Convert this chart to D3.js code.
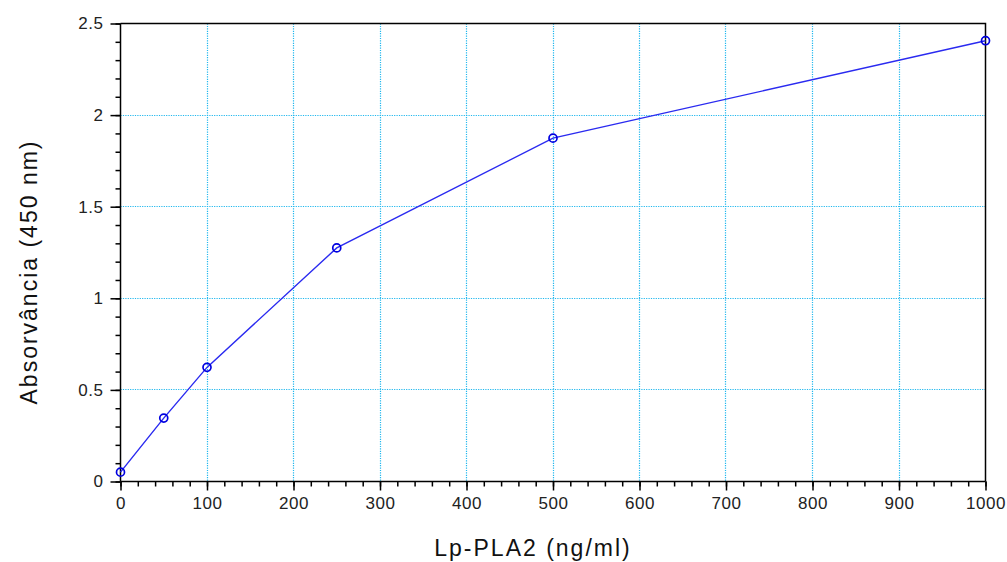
<!DOCTYPE html>
<html>
<head>
<meta charset="utf-8">
<script src="https://cdn.jsdelivr.net/npm/d3@7.9.0/dist/d3.min.js"></script>
<style>
  html, body { margin: 0; padding: 0; background: #fff; }
  svg { display: block; font-family: "Liberation Sans", Arial, sans-serif; }
</style>
</head>
<body>
<svg id="chart" width="1007" height="562"></svg>
<script>
const concentrations = [0, 50, 100, 250, 500, 1000];
const absorbance = [0.051, 0.346, 0.623, 1.275, 1.874, 2.406];
const xTicks = [0, 100, 200, 300, 400, 500, 600, 700, 800, 900, 1000];
const yTicks = [0, 0.5, 1, 1.5, 2, 2.5];
const xLabel = "Lp-PLA2 (ng/ml)";
const yLabel = "Absorvância (450 nm)";

const svg = d3.select("#chart");
const plotLeft = 120.5, plotRight = 985.5, plotTop = 23.5, plotBottom = 481.5;

const x = d3.scaleLinear().domain([0, 1000]).range([plotLeft, plotRight]);
const y = d3.scaleLinear().domain([0, 2.5]).range([plotBottom, plotTop]);

const gridColor = "#22b8ee";
const px = v => Math.round(v - 0.5) + 0.5;

// grid lines (dotted)
svg.append("g")
  .selectAll("line")
  .data(xTicks.filter(d => d > 0 && d < 1000))
  .join("line")
  .attr("x1", d => px(x(d))).attr("x2", d => px(x(d)))
  .attr("y1", plotTop).attr("y2", plotBottom)
  .attr("stroke", gridColor).attr("stroke-width", 1.2).attr("stroke-dasharray", "1.2,1.2");

svg.append("g")
  .selectAll("line")
  .data(yTicks.filter(d => d > 0 && d < 2.5))
  .join("line")
  .attr("y1", d => px(y(d))).attr("y2", d => px(y(d)))
  .attr("x1", plotLeft).attr("x2", plotRight)
  .attr("stroke", gridColor).attr("stroke-width", 1.2).attr("stroke-dasharray", "1.2,1.2");

// frame (top and right)
svg.append("path")
  .attr("d", `M${plotLeft},${plotTop}H${plotRight}V${plotBottom}`)
  .attr("fill", "none").attr("stroke", "#000").attr("stroke-width", 1.5);

function styleAxis(g) {
  g.select(".domain").remove();
  g.selectAll("line").attr("stroke", "#000").attr("stroke-width", 1.5);
  g.selectAll("text").attr("font-size", 17).attr("fill", "#222")
    .attr("letter-spacing", 0.5)
    .attr("font-family", "'Liberation Sans', Arial, sans-serif");
}

// x axis: minor ticks, major ticks, axis line
svg.append("g").attr("transform", `translate(0,${plotBottom})`)
  .call(d3.axisBottom(x).tickValues(d3.range(0, 1001, 20)).tickSize(5).tickFormat(""))
  .call(styleAxis);
svg.append("g").attr("transform", `translate(0,${plotBottom})`)
  .call(d3.axisBottom(x).tickValues(xTicks).tickSize(9).tickPadding(6).tickFormat(d3.format("d")))
  .call(styleAxis);
svg.append("line").attr("x1", plotLeft).attr("x2", plotRight)
  .attr("y1", plotBottom).attr("y2", plotBottom)
  .attr("stroke", "#000").attr("stroke-width", 1.5);

// y axis: minor ticks, major ticks, axis line
svg.append("g").attr("transform", `translate(${plotLeft},0)`)
  .call(d3.axisLeft(y).tickValues(d3.range(0, 26).map(i => i / 10)).tickSize(5).tickFormat(""))
  .call(styleAxis);
svg.append("g").attr("transform", `translate(${plotLeft},0)`)
  .call(d3.axisLeft(y).tickValues(yTicks).tickSize(10).tickPadding(7).tickFormat(d => String(d)))
  .call(styleAxis);
svg.append("line").attr("x1", plotLeft).attr("x2", plotLeft)
  .attr("y1", plotTop).attr("y2", plotBottom)
  .attr("stroke", "#000").attr("stroke-width", 1.5);

// data
const data = concentrations.map((c, i) => ({ c, a: absorbance[i] }));
svg.append("path")
  .datum(data)
  .attr("fill", "none")
  .attr("stroke", "#2a2af0")
  .attr("stroke-width", 1.4)
  .attr("d", d3.line().x(d => x(d.c)).y(d => y(d.a)));

svg.append("g")
  .selectAll("circle")
  .data(data)
  .join("circle")
  .attr("cx", d => x(d.c)).attr("cy", d => y(d.a))
  .attr("r", 4)
  .attr("fill", "none")
  .attr("stroke", "#0000e0")
  .attr("stroke-width", 1.7);

// titles
svg.append("text")
  .attr("x", 533).attr("y", 556)
  .attr("text-anchor", "middle")
  .attr("font-size", 23).attr("letter-spacing", 2).attr("fill", "#111")
  .text(xLabel);

svg.append("text")
  .attr("transform", `translate(37,272) rotate(-90)`)
  .attr("text-anchor", "middle")
  .attr("font-size", 23).attr("letter-spacing", 2).attr("fill", "#111")
  .text(yLabel);
</script>
</body>
</html>
